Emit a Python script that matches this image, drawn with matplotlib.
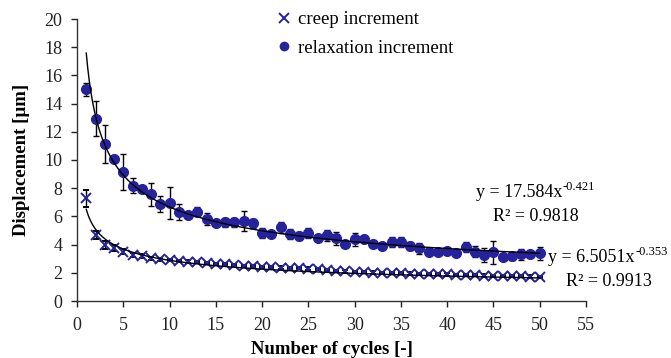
import numpy as np
import matplotlib
matplotlib.use("Agg")
import matplotlib.pyplot as plt
from matplotlib.lines import Line2D

plt.rcParams['font.family'] = ['Liberation Serif', 'DejaVu Serif']

cycles = list(range(1, 51))

relax = [15.0, 12.93, 11.13, 10.09, 9.15, 8.16, 7.94, 7.57, 6.88, 6.97,
         6.29, 6.08, 6.33, 5.82, 5.51, 5.58, 5.58, 5.65, 5.51, 4.80,
         4.73, 5.23, 4.73, 4.61, 4.85, 4.50, 4.66, 4.45, 4.04, 4.37,
         4.37, 4.04, 3.90, 4.18, 4.18, 3.90, 3.74, 3.50, 3.50, 3.57,
         3.43, 3.85, 3.50, 3.26, 3.45, 3.14, 3.21, 3.31, 3.33, 3.38]
relax_err = [0.45, 1.25, 1.35, 0.2, 1.28, 0.53, 0.2, 0.8, 0.56, 1.15,
             0.57, 0.2, 0.33, 0.45, 0.2, 0.3, 0.3, 0.7, 0.33, 0.35,
             0.2, 0.4, 0.35, 0.3, 0.35, 0.2, 0.4, 0.45, 0.2, 0.45,
             0.2, 0.2, 0.2, 0.35, 0.35, 0.3, 0.4, 0.2, 0.2, 0.2,
             0.2, 0.35, 0.4, 0.5, 0.8, 0.2, 0.3, 0.4, 0.2, 0.45]

creep = [7.28, 4.68, 3.97, 3.74, 3.50, 3.26, 3.19, 3.03, 2.96, 2.91,
         2.85, 2.80, 2.75, 2.70, 2.65, 2.60, 2.55, 2.50, 2.47, 2.43,
         2.40, 2.37, 2.35, 2.32, 2.30, 2.25, 2.20, 2.15, 2.10, 2.08,
         2.05, 2.02, 2.00, 1.98, 1.96, 1.95, 1.93, 1.91, 1.90, 1.88,
         1.86, 1.84, 1.82, 1.80, 1.78, 1.77, 1.76, 1.75, 1.73, 1.72]
creep_err = [0.6, 0.3, 0.3, 0.2, 0.2, 0.15, 0.15, 0.1, 0.1, 0.1] + [0.08] * 40

fit_relax = (17.584, -0.421)
fit_creep = (6.5051, -0.353)

x_ticks = list(range(0, 60, 5))
y_ticks = list(range(0, 22, 2))

blue = '#25229c'

fig = plt.figure(figsize=(6.71, 3.58), dpi=100)
ax = fig.add_axes([77/671, 1-301/358, (586-77)/671, (301-19)/358])

xf = np.linspace(1, 50, 300)
ax.plot(xf, fit_relax[0]*xf**fit_relax[1], color='black', lw=1.0, zorder=4)
ax.plot(xf, fit_creep[0]*xf**fit_creep[1], color='black', lw=1.0, zorder=4)

ax.errorbar(cycles, creep, yerr=creep_err, fmt='x', color=blue, ms=7.5, mew=1.4,
            ecolor='black', elinewidth=1, capsize=2.5, capthick=1, zorder=3)
ax.errorbar(cycles, relax, yerr=relax_err, fmt='o', color=blue, ms=7,
            ecolor='black', elinewidth=1, capsize=2.5, capthick=1, zorder=3)

ax.set_xlim(0, 55)
ax.set_ylim(0, 20)
ax.set_xticks(x_ticks)
ax.set_yticks(y_ticks)
ax.spines['top'].set_visible(False)
ax.spines['right'].set_visible(False)
for s in ['left', 'bottom']:
    ax.spines[s].set_linewidth(1.0)
    ax.spines[s].set_color('#333333')
ax.tick_params(direction='out', length=4.5, width=1, labelsize=13, colors='#222222', pad=6)
ax.tick_params(axis='x', pad=7)

ax.set_xlabel('Number of cycles [-]', fontsize=13.5, fontweight='bold', labelpad=5)
ax.set_ylabel('Displacement [µm]', fontsize=13.5, fontweight='bold', labelpad=10)

handles = [Line2D([], [], ls='none', marker='x', color=blue, ms=7, mew=1.4),
           Line2D([], [], ls='none', marker='o', color=blue, ms=6)]
ax.legend(handles, ['creep increment', 'relaxation increment'],
          loc='upper left', bbox_to_anchor=(261/671, 1 + 2/358), bbox_transform=fig.transFigure,
          frameon=False, fontsize=13.5, handletextpad=0.3, labelspacing=0.6,
          handlelength=1.0, borderpad=0.2)

fig.canvas.draw()
renderer = fig.canvas.get_renderer()


def eq_text(x, y, base, expo):
    t = ax.text(x, y, base, ha='left', va='center', fontsize=13, clip_on=False)
    bb = t.get_window_extent(renderer)
    inv = ax.transData.inverted()
    xe, ye = inv.transform((bb.x1 + 0.5, bb.y1 - 3))
    ax.text(xe, ye, expo, ha='left', va='center', fontsize=9, clip_on=False)


eq_text(43.1, 7.73, 'y = 17.584x', '-0.421')
ax.text(45.0, 5.96, 'R² = 0.9818', ha='left', va='center', fontsize=13, clip_on=False)
eq_text(50.9, 3.12, 'y = 6.5051x', '-0.353')
ax.text(52.8, 1.35, 'R² = 0.9913', ha='left', va='center', fontsize=13, clip_on=False)

fig.savefig('out.png', dpi=100)
